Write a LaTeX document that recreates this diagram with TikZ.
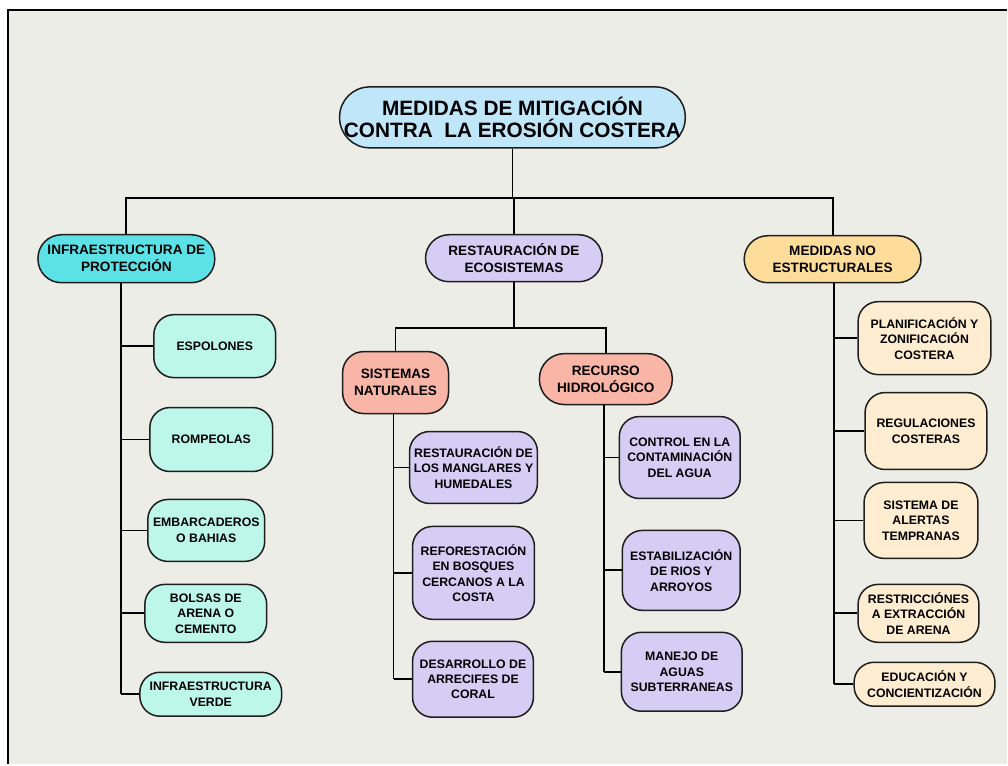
\documentclass[tikz,border=0pt]{standalone}
\usepackage{fontspec}
\setmainfont{Liberation Sans}
\usepackage{xcolor}
\definecolor{fondo}{HTML}{EDEDE8}
\definecolor{borde}{HTML}{1E1E1E}
\definecolor{azulT}{HTML}{C0E6FA}
\definecolor{cian}{HTML}{5CE1E6}
\definecolor{menta}{HTML}{BDF7EA}
\definecolor{lila}{HTML}{D6CDF5}
\definecolor{salmon}{HTML}{F9B5A6}
\definecolor{ambar}{HTML}{FEDD9B}
\definecolor{crema}{HTML}{FEEDD0}

\begin{document}
\begin{tikzpicture}[x=1pt, y=-1pt,
    caja/.style={draw=borde, line width=1.5pt, align=center, inner sep=0pt, rounded corners=20pt,
      font=\bfseries\fontsize{12.3}{15.5}\selectfont},
    nivel/.style={caja, rounded corners=23.5pt, font=\bfseries\fontsize{13.6}{17}\selectfont},
    rama/.style={line width=1.8pt, black}]
        \fill [white] (0,0) rectangle (1008,765);
        \fill [fondo] (8,10) rectangle (1008,765);
        \draw [line width=2.2pt] (8,765) -- (8,10) -- (1008,10);

        \node [caja, fill=azulT, rounded corners=30pt, minimum width=346pt, minimum height=61pt,
          font=\bfseries\fontsize{20.8}{22}\selectfont] (titulo) at (513,117.5)
          {MEDIDAS DE MITIGACIÓN\\CONTRA\ \ LA EROSIÓN COSTERA};

        \node [nivel, fill=cian, minimum width=177pt, minimum height=48pt] (infra) at (126.5,259) {INFRAESTRUCTURA DE\\PROTECCIÓN};
        \node [nivel, fill=lila, minimum width=177pt, minimum height=47pt] (resteco) at (514.5,258.5) {RESTAURACIÓN DE\\ECOSISTEMAS};
        \node [nivel, fill=ambar, minimum width=177pt, minimum height=47pt] (noestr) at (833.5,259.5) {MEDIDAS NO\\ESTRUCTURALES};
        \node [nivel, fill=salmon, rounded corners=21pt, minimum width=106pt, minimum height=62pt] (sisnat) at (396,383) {SISTEMAS\\NATURALES};
        \node [nivel, fill=salmon, rounded corners=25pt, minimum width=133pt, minimum height=51pt] (recurso) at (606.5,379.5) {RECURSO\\HIDROLÓGICO};

        \node [caja, fill=menta, minimum width=122pt, minimum height=63pt] (espolones) at (215,346.5) {ESPOLONES};
        \node [caja, fill=menta, minimum width=123pt, minimum height=64pt] (rompeolas) at (211.5,440) {ROMPEOLAS};
        \node [caja, fill=menta, minimum width=117pt, minimum height=62pt] (embarc) at (206.5,531) {EMBARCADEROS\\O BAHIAS};
        \node [caja, fill=menta, minimum width=122pt, minimum height=58pt] (bolsas) at (206,614) {BOLSAS DE\\ARENA O\\CEMENTO};
        \node [caja, fill=menta, minimum width=142pt, minimum height=44pt] (verde) at (211,695) {INFRAESTRUCTURA\\VERDE};

        \node [caja, fill=lila, minimum width=128pt, minimum height=72pt] (manglar) at (474,468) {RESTAURACIÓN DE\\LOS MANGLARES Y\\HUMEDALES};
        \node [caja, fill=lila, minimum width=122pt, minimum height=93pt] (refor) at (474,573.5) {REFORESTACIÓN\\EN BOSQUES\\CERCANOS A LA\\COSTA};
        \node [caja, fill=lila, minimum width=121pt, minimum height=76pt] (arrecife) at (473.5,680) {DESARROLLO DE\\ARRECIFES DE\\CORAL};
        \node [caja, fill=lila, minimum width=121pt, minimum height=82pt] (contam) at (680.5,458) {CONTROL EN LA\\CONTAMINACIÓN\\DEL AGUA};
        \node [caja, fill=lila, minimum width=118pt, minimum height=80pt] (rios) at (682,571) {ESTABILIZACIÓN\\DE RIOS Y\\ARROYOS};
        \node [caja, fill=lila, minimum width=121pt, minimum height=79pt] (subter) at (682.5,672.5) {MANEJO DE\\AGUAS\\SUBTERRANEAS};

        \node [caja, fill=crema, minimum width=133pt, minimum height=73pt] (planif) at (925.5,338.5) {PLANIFICACIÓN Y\\ZONIFICACIÓN\\COSTERA};
        \node [caja, fill=crema, minimum width=122pt, minimum height=77pt] (regul) at (927,431.5) {REGULACIONES\\COSTERAS};
        \node [caja, fill=crema, minimum width=114pt, minimum height=76pt] (alertas) at (922,521) {SISTEMA DE\\ALERTAS\\TEMPRANAS};
        \node [caja, fill=crema, minimum width=121pt, minimum height=58pt] (restric) at (919.5,614) {RESTRICCIÓNES\\A EXTRACCIÓN\\DE ARENA};
        \node [caja, fill=crema, minimum width=141pt, minimum height=44pt] (educ) at (925.5,685) {EDUCACIÓN Y\\CONCIENTIZACIÓN};

        \coordinate (cruce) at (513,198);
        \coordinate (cruceb) at (517,328);
        \draw [rama] (titulo.south) -- (cruce);
        \draw [rama] (infra.north) |- (cruce) -| (noestr.north);
        \draw [rama] (resteco.north) -- (resteco.north |- cruce);
        \draw [rama] (resteco.south) -- (resteco.south |- cruceb);
        \draw [rama] (sisnat.north) |- (cruceb) -| (recurso.north);

        \draw [rama] ([xshift=-5pt]infra.south) -- ([xshift=-5pt]infra.south |- verde.west);
        \foreach \n in {espolones,rompeolas,embarc,bolsas,verde}
          \draw [rama] (\n.west) -- ([xshift=-5pt]infra.south |- \n.west);
        \draw [rama] ([xshift=-2pt]sisnat.south) -- ([xshift=-2pt]sisnat.south |- arrecife.west);
        \foreach \n in {manglar,refor,arrecife}
          \draw [rama] (\n.west) -- ([xshift=-2pt]sisnat.south |- \n.west);
        \draw [rama] ([xshift=-2pt]recurso.south) -- ([xshift=-2pt]recurso.south |- subter.west);
        \foreach \n in {contam,rios,subter}
          \draw [rama] (\n.west) -- ([xshift=-2pt]recurso.south |- \n.west);
        \draw [rama] ([xshift=1.5pt]noestr.south) -- ([xshift=1.5pt]noestr.south |- educ.west);
        \foreach \n in {planif,regul,alertas,restric,educ}
          \draw [rama] (\n.west) -- ([xshift=1.5pt]noestr.south |- \n.west);
    \end{tikzpicture}
\end{document}
